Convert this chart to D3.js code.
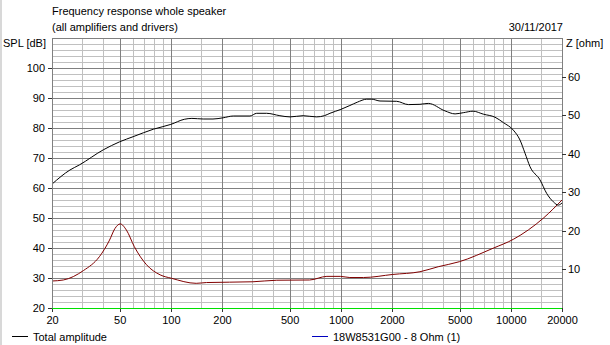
<!DOCTYPE html>
<html>
<head>
<meta charset="utf-8">
<script src="https://cdn.jsdelivr.net/npm/d3@7/dist/d3.min.js"></script>
<style>
    body { margin: 0; background: #fff; }
    text { font-family: "Liberation Sans", Arial, sans-serif; font-size: 11px; fill: #000; }
</style>
</head>
<body>
<div id="chart"></div>
<script>
// Data
const splFreq = [20, 25.5, 29, 40, 50, 60, 79, 100, 120, 133, 155, 177, 203, 233, 292, 320, 366, 438, 503, 600, 720, 800, 863, 1000, 1130, 1250, 1420, 1520, 1700, 2130, 2500, 2920, 3270, 4100, 4700, 5250, 6000, 6900, 8070, 9040, 10340, 11320, 12120, 12970, 14850, 16250, 17780, 19020, 20000];
const splDb = [61.3, 66, 67.7, 72.7, 75.4, 77.1, 79.6, 81.2, 82.9, 83.2, 83, 83, 83.4, 84, 84, 84.9, 84.9, 84.1, 83.7, 84.1, 83.7, 84.1, 84.9, 86.2, 87.5, 88.6, 89.6, 89.6, 89, 88.9, 87.8, 87.9, 88.2, 85.7, 84.7, 85.1, 85.6, 84.6, 83.6, 81.8, 79.3, 76, 71.6, 67.1, 62.7, 58.2, 55.4, 54.3, 55];

const impFreq = [20, 23.3, 30.6, 38, 43.6, 46.9, 50.4, 54.8, 61, 72, 86.5, 101, 141, 162, 304, 420, 655, 828, 993, 1130, 1358, 2020, 2920, 3740, 4980, 7870, 10340, 15630, 20000];
const impOhm = [7.0, 7.26, 9.7, 13.3, 17.6, 20.6, 21.8, 20.2, 15.9, 11.2, 8.6, 7.7, 6.4, 6.6, 6.8, 7.2, 7.26, 8.2, 8.2, 7.9, 7.9, 8.7, 9.4, 10.7, 12, 15.5, 17.8, 23.4, 28];

const freqLabels = [20, 50, 100, 200, 500, 1000, 2000, 5000, 10000, 20000];
const splTicks = [20, 30, 40, 50, 60, 70, 80, 90, 100];
const ohmTicks = [10, 20, 30, 40, 50, 60];
const minorMult = [1, 1.5, 2, 3, 4, 5, 6, 7, 8, 9];

const legendNames = ["Total amplitude", "18W8531G00 - 8 Ohm (1)"];

// Configuration
const config = {
    width: 610,
    height: 345,
    margin: { top: 38, right: 48, bottom: 37, left: 52 },
    colors: {
        minor: "#c0c0c0",
        major: "#808080",
        spl: "#000000",
        imp: "#800000",
        base: "#00e000",
        legendImp: "#0000c0"
    }
};

const innerW = config.width - config.margin.left - config.margin.right;
const innerH = config.height - config.margin.top - config.margin.bottom;

const svg = d3.select("#chart").append("svg")
    .attr("width", config.width)
    .attr("height", config.height);

// thin grey edge of the window on the left
svg.append("rect").attr("x", 0).attr("y", 0).attr("width", 2).attr("height", config.height).attr("fill", "#d8d8d8");

const g = svg.append("g")
    .attr("transform", `translate(${config.margin.left},${config.margin.top})`);

const x = d3.scaleLog().domain([20, 20000]).range([0, innerW]);
const y = d3.scaleLinear().domain([20, 110]).range([innerH, 0]);
const yz = d3.scaleLinear().domain([0, 70]).range([innerH, 0]);

// Grid
const vLines = [];
[10, 100, 1000, 10000].forEach(d => minorMult.forEach(m => {
    const f = d * m;
    if (f >= 20 && f <= 20000) vLines.push(f);
}));
const hLines = d3.range(20, 111, 2);

const grid = g.append("g").attr("shape-rendering", "crispEdges");
grid.selectAll(".hminor").data(hLines.filter(v => v % 10 !== 0)).enter().append("line")
    .attr("x1", 0).attr("x2", innerW)
    .attr("y1", d => Math.round(y(d)) + 0.5).attr("y2", d => Math.round(y(d)) + 0.5)
    .attr("stroke", config.colors.minor);
grid.selectAll(".vminor").data(vLines.filter(f => !freqLabels.includes(f))).enter().append("line")
    .attr("x1", d => Math.round(x(d)) + 0.5).attr("x2", d => Math.round(x(d)) + 0.5)
    .attr("y1", 0).attr("y2", innerH)
    .attr("stroke", config.colors.minor);
grid.selectAll(".hmajor").data(hLines.filter(v => v % 10 === 0)).enter().append("line")
    .attr("x1", 0).attr("x2", innerW)
    .attr("y1", d => Math.round(y(d)) + 0.5).attr("y2", d => Math.round(y(d)) + 0.5)
    .attr("stroke", config.colors.major);
grid.selectAll(".vmajor").data(freqLabels).enter().append("line")
    .attr("x1", d => Math.round(x(d)) + 0.5).attr("x2", d => Math.round(x(d)) + 0.5)
    .attr("y1", 0).attr("y2", innerH)
    .attr("stroke", config.colors.major);

// Curves
const splLine = d3.line()
    .x(d => x(d[0])).y(d => y(d[1]))
    .curve(d3.curveMonotoneX);
const impLine = d3.line()
    .x(d => x(d[0])).y(d => yz(d[1]))
    .curve(d3.curveMonotoneX);

g.append("path")
    .datum(impFreq.map((f, i) => [f, impOhm[i]]))
    .attr("d", impLine)
    .attr("fill", "none")
    .attr("stroke", config.colors.imp)
    .attr("stroke-width", 1);

g.append("path")
    .datum(splFreq.map((f, i) => [f, splDb[i]]))
    .attr("d", splLine)
    .attr("fill", "none")
    .attr("stroke", config.colors.spl)
    .attr("stroke-width", 1);

// Axes
function styleAxis(sel) {
    sel.select(".domain").attr("stroke", config.colors.major).attr("shape-rendering", "crispEdges");
    sel.selectAll(".tick line").attr("stroke", "#333").attr("shape-rendering", "crispEdges");
    sel.selectAll("text").attr("font-family", null).attr("font-size", null);
}

g.append("g")
    .call(d3.axisLeft(y).tickValues(splTicks).tickSize(4).tickSizeOuter(0).tickPadding(3))
    .call(styleAxis);

g.append("g")
    .attr("transform", `translate(${innerW},0)`)
    .call(d3.axisRight(yz).tickValues(ohmTicks).tickSize(4).tickSizeOuter(0).tickPadding(2).tickFormat(d3.format("d")))
    .call(styleAxis);

g.append("g")
    .attr("transform", `translate(0,${innerH})`)
    .call(d3.axisBottom(x).tickValues(freqLabels).tickSize(4).tickSizeOuter(0).tickPadding(4).tickFormat(d3.format("d")))
    .call(styleAxis)
    .select(".domain").remove();

// green 20 dB base line
g.append("line")
    .attr("x1", 0).attr("x2", innerW)
    .attr("y1", Math.round(y(20)) + 0.5).attr("y2", Math.round(y(20)) + 0.5)
    .attr("stroke", config.colors.base)
    .attr("shape-rendering", "crispEdges");

// Titles
svg.append("text").attr("x", 52).attr("y", 15).text("Frequency response whole speaker");
svg.append("text").attr("x", 52).attr("y", 31).text("(all amplifiers and drivers)");
svg.append("text").attr("x", 3).attr("y", 47).text("SPL [dB]");
svg.append("text").attr("x", 563).attr("y", 31).attr("text-anchor", "end").text("30/11/2017");
svg.append("text").attr("x", 566).attr("y", 47).text("Z [ohm]");

// Legend
const legend = svg.append("g").attr("shape-rendering", "crispEdges");
[[12, config.colors.spl], [312, config.colors.legendImp]].forEach((p, i) => {
    legend.append("line")
        .attr("x1", p[0]).attr("x2", p[0] + 16)
        .attr("y1", 336.5).attr("y2", 336.5)
        .attr("stroke", p[1]);
    legend.append("text")
        .attr("x", p[0] + 21).attr("y", 341)
        .text(legendNames[i]);
});
</script>
</body>
</html>
